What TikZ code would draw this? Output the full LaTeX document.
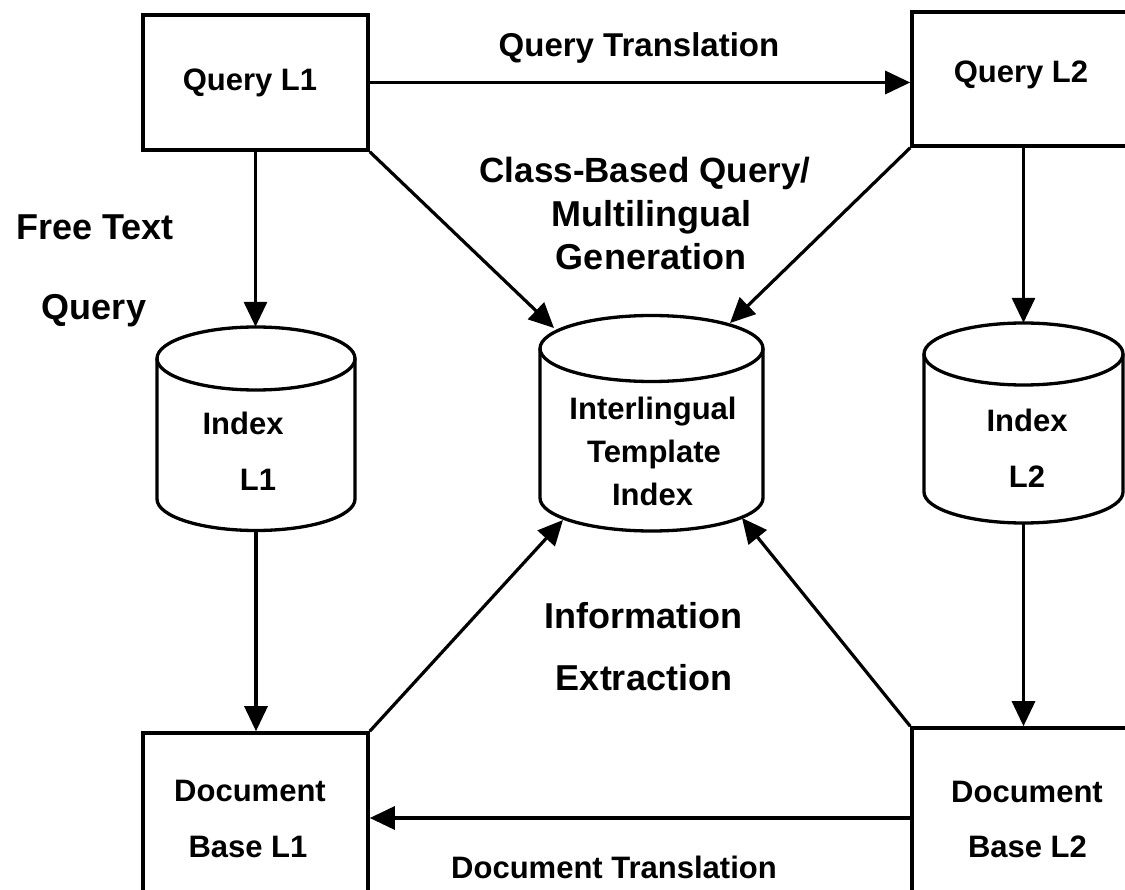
\documentclass[tikz,border=0pt]{standalone}
\usepackage{fontspec}
\setmainfont{Liberation Sans}
\usetikzlibrary{arrows.meta,calc}
\newcommand\drawcyl[5]{%
  \draw[cyl] (#1,#2) ellipse [x radius=#4, y radius=#5];
  \draw[cyl] ({#1-#4},#2) -- ({#1-#4},#3) arc[start angle=180, end angle=0, x radius=#4, y radius=#5] -- ({#1+#4},#2);
}
\begin{document}
\begin{tikzpicture}[x=1pt,y=-1pt,
  box/.style={draw, line width=3.6pt, inner sep=0pt},
  lbl/.style={font=\fontsize{31}{31}\selectfont\bfseries, anchor=base, inner sep=0pt},
  big/.style={font=\fontsize{36}{36}\selectfont\bfseries, anchor=base, inner sep=0pt},
  arr/.style={line width=3.2pt, -{Triangle[length=25pt,width=23pt]}},
  cyl/.style={line width=3.3pt},
  hole/.style={inner sep=0pt, draw=none}
]
\useasboundingbox (0,0) rectangle (1125,890);
\clip (0,0) rectangle (1125,890);

% boxes
\node[box, minimum width=225pt, minimum height=135pt] (ql1) at (255.5,82.5) {};
\node[box, minimum width=228pt, minimum height=134pt] (ql2) at (1026,79) {};
\node[box, minimum width=225pt, minimum height=180pt] (db1) at (255.5,823) {};
\node[box, minimum width=228pt, minimum height=180pt] (db2) at (1026,818) {};

% cylinders
\drawcyl{256}{358.5}{499}{99}{31.5}
\drawcyl{651.5}{348.5}{498}{111.5}{33}
\drawcyl{1023.5}{354}{492}{99.5}{31}
\node[hole, minimum width=198pt, minimum height=203pt] (idx1) at (256,428.5) {};
\node[hole, minimum width=223pt, minimum height=215pt] (tpl) at (651.5,422.5) {};
\node[hole, minimum width=199pt, minimum height=199pt] (idx2) at (1023.5,422.5) {};
\coordinate (tplnw) at (554,328);
\coordinate (tplne) at (730,323);
\coordinate (tplsw) at (563,520);
\coordinate (tplse) at (742,518);

% labels inside shapes
\node[lbl] (tql1) at (250,90.5) {Query L1};
\node[lbl] (tql2) at (1021,83) {Query L2};
\node[lbl] (ti1a) at (243,435) {Index};
\node[lbl] (ti1b) at (258,490) {L1};
\node[lbl] (ti2a) at (1027,432) {Index};
\node[lbl] (ti2b) at (1027,488) {L2};
\node[lbl] (tt1) at (653,420) {Interlingual};
\node[lbl] (tt2) at (654,463) {Template};
\node[lbl] (tt3) at (652.5,505) {Index};
\node[lbl] (td1a) at (250,801) {Document};
\node[lbl] (td1b) at (248,857) {Base L1};
\node[lbl] (td2a) at (1027,802) {Document};
\node[lbl] (td2b) at (1027.5,857) {Base L2};

% free labels
\node[big] (ft1) at (95,240) {Free Text};
\node[big] (ft2) at (94,320) {Query};
\node[big, font=\fontsize{33}{33}\selectfont\bfseries] (qt) at (639,57) {Query Translation};
\node[big, font=\fontsize{35}{35}\selectfont\bfseries] (cb1) at (645,183) {Class-Based Query/};
\node[big] (cb2) at (651,227) {Multilingual};
\node[big] (cb3) at (651,270) {Generation};
\node[big] (ie1) at (643,628) {Information};
\node[big] (ie2) at (644,690) {Extraction};
\node[big, font=\fontsize{31}{31}\selectfont\bfseries] (dt) at (614,878) {Document Translation};

% connectors
\draw[arr] (ql1.east) -- (ql1.east -| ql2.west);
\draw[arr] (db2.west) -- (db2.west -| db1.east);
\draw[arr] (ql1.south) -- (ql1.south |- idx1.north);
\draw[arr] (idx1.south) -- (idx1.south |- db1.north);
\draw[arr] (ql2.south -| idx2.north) -- (idx2.north);
\draw[arr] (idx2.south) -- (idx2.south |- db2.north);
\draw[arr] (ql1.south east) -- (tplnw);
\draw[arr] (ql2.south west) -- (tplne);
\draw[arr] (db1.north east) -- (tplsw);
\draw[arr] (db2.north west) -- (tplse);
\end{tikzpicture}
\end{document}
